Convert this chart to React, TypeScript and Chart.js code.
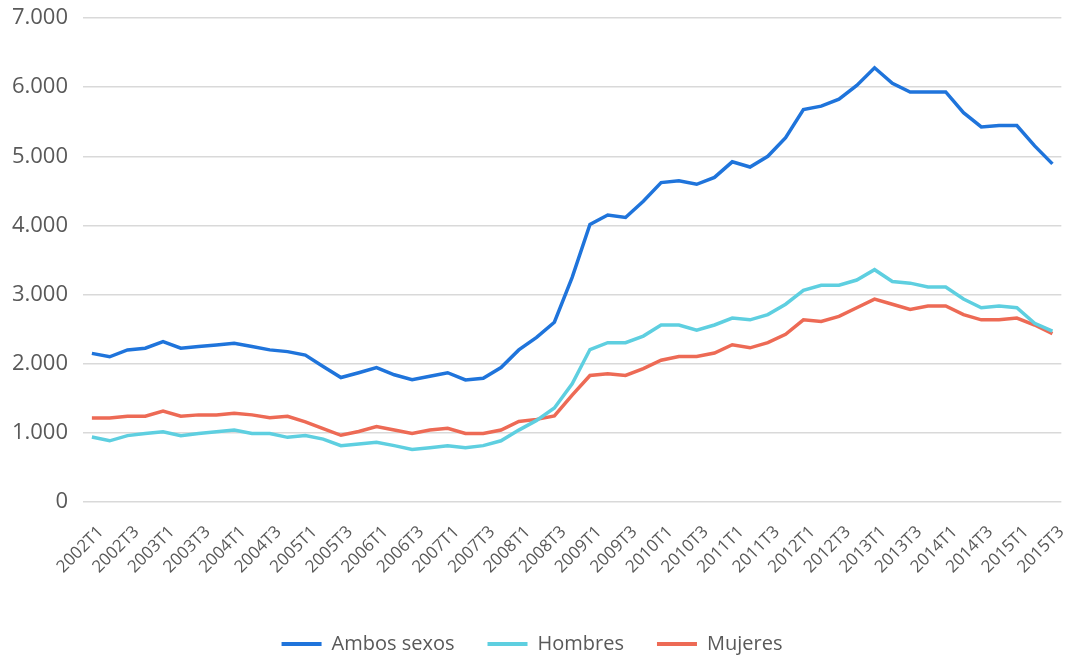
import React, { useEffect, useRef } from "react";
import { Chart, registerables } from "chart.js";

Chart.register(...registerables);

const years = [2002, 2003, 2004, 2005, 2006, 2007, 2008, 2009, 2010, 2011, 2012, 2013, 2014, 2015];
const quarters = ["T1", "T2", "T3", "T4"];
const categories: string[] = [];
years.forEach((y) => quarters.forEach((q) => categories.push(`${y}${q}`)));
categories.splice(55); // 2002T1 .. 2015T3

const ambosSexos = [
  2150, 2100, 2200, 2225, 2320, 2225, 2250, 2270, 2295, 2250,
  2200, 2175, 2125, 1960, 1800, 1870, 1945, 1840, 1770, 1820,
  1870, 1765, 1790, 1945, 2200, 2380, 2600, 3250, 4015, 4150,
  4115, 4350, 4620, 4645, 4595, 4695, 4920, 4845, 5000, 5270,
  5675, 5725, 5825, 6025, 6280, 6055, 5930, 5930, 5930, 5630,
  5425, 5445, 5445, 5150, 4890,
];

const hombres = [
  940, 885, 960, 990, 1015, 960, 990, 1015, 1040, 990,
  990, 935, 960, 910, 815, 840, 865, 815, 760, 785,
  815, 785, 815, 885, 1040, 1180, 1360, 1710, 2205, 2305,
  2305, 2400, 2560, 2560, 2485, 2560, 2660, 2635, 2710, 2860,
  3060, 3135, 3135, 3210, 3360, 3190, 3165, 3110, 3110, 2935,
  2810, 2835, 2810, 2585, 2470,
];

const mujeres = [
  1215, 1215, 1240, 1240, 1315, 1240, 1260, 1260, 1285, 1260,
  1220, 1240, 1160, 1060, 965, 1020, 1090, 1040, 990, 1040,
  1065, 990, 990, 1040, 1165, 1195, 1245, 1545, 1830, 1855,
  1830, 1930, 2050, 2105, 2105, 2155, 2275, 2230, 2305, 2425,
  2635, 2610, 2685, 2810, 2935, 2860, 2785, 2835, 2835, 2710,
  2635, 2635, 2660, 2560, 2435,
];

const seriesNames = ["Ambos sexos", "Hombres", "Mujeres"];
const seriesColors = ["#1f74db", "#5ecfe0", "#ed6a55"];

const yMin = 0;
const yMax = 7000;
const yStep = 1000;

function fmt(v: number): string {
  const s = Math.round(v).toString();
  return s.replace(/\B(?=(\d{3})+(?!\d))/g, ".");
}

export default function App() {
  const ref = useRef<HTMLCanvasElement | null>(null);

  useEffect(() => {
    if (!ref.current) return;
    const values = [ambosSexos, hombres, mujeres];
    const chart = new Chart(ref.current, {
      type: "line",
      data: {
        labels: categories,
        datasets: values.map((d, i) => ({
          label: seriesNames[i],
          data: d,
          borderColor: seriesColors[i],
          backgroundColor: seriesColors[i],
          borderWidth: 3.5,
          pointRadius: 0,
          tension: 0,
          fill: false,
        })),
      },
      options: {
        responsive: false,
        animation: false,
        layout: { padding: { left: 0, right: 15, top: 18, bottom: -8 } },
        plugins: {
          tooltip: { enabled: false },
          legend: {
            position: "bottom",
            labels: {
              color: "#595959",
              font: { family: "'Open Sans'", size: 20 },
              boxWidth: 40,
              boxHeight: 4,
              padding: 33,
              generateLabels: (c: any) =>
                c.data.datasets.map((ds: any, i: number) => ({
                  text: ds.label,
                  fillStyle: ds.borderColor,
                  strokeStyle: ds.borderColor,
                  lineWidth: 0,
                  fontColor: "#595959",
                  datasetIndex: i,
                  hidden: false,
                })),
            },
          },
        },
        scales: {
          x: {
            offset: true,
            grid: { display: false },
            border: { display: false },
            afterFit: (s: any) => {
              s.height = 99;
            },
            ticks: {
              autoSkip: false,
              minRotation: 45,
              maxRotation: 45,
              color: "#595959",
              font: { family: "'Open Sans'", size: 17 },
              padding: 12,
              labelOffset: 9,
              callback: (_v: any, i: number) => (i % 2 === 0 ? categories[i] : ""),
            },
          },
          y: {
            min: yMin,
            max: yMax,
            afterFit: (s: any) => {
              s.width = 83;
              s.paddingTop = 0;
              s.paddingBottom = 0;
            },
            grid: { color: "#d9d9d9", lineWidth: 1.5, drawTicks: false },
            border: { display: false },
            ticks: {
              stepSize: yStep,
              padding: 15,
              color: "#595959",
              font: { family: "'Open Sans'", size: 22 },
              callback: (v: any) => fmt(Number(v)),
            },
          },
        },
      },
    });
    return () => chart.destroy();
  }, []);

  return (
    <div style={{ position: "absolute", left: 0, top: 0, width: 1079, height: 656, background: "#fff" }}>
      <canvas ref={ref} width={1079} height={656} style={{ width: 1079, height: 656 }} />
    </div>
  );
}
